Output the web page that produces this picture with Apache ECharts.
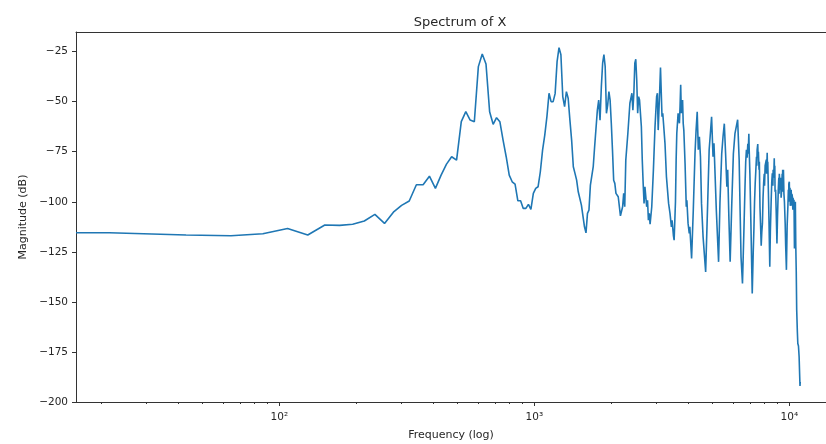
<!DOCTYPE html>
<html>
<head>
<meta charset="utf-8">
<script src="https://cdn.jsdelivr.net/npm/echarts@6/dist/echarts.min.js"></script>
<style>
html,body{margin:0;padding:0;background:#fff;}
#chart{width:826px;height:444px;}
</style>
</head>
<body>
<div id="chart"></div>
<script>
// ---- data ----
var sampleRate = 22050;
var fftSize = 1024;
var dcMagnitude = -115.5;
var bins = [1,2,3,4,5,6,7,8,9,10,11,12,13,14,15,16,17,18,19,20,21,22,23,24,25,26,27,28,29,30,
  31,32,33,34,35,36,37,38,39,40,41,42,43,44,45,46,47,48,49,50,51,52,53,54,55,56,57,58,59,60,
  61,62,63,64,65,66,67,68,69,70,71,72,73,74,75,76,77,78,79,80,81,82,83,84,85,86,87,88,89,90,
  91,92,93,94,95,96,97,99,101,103,104,105,106,108,109,110,112,113,114,115,116,117,118,119,120,
  122,123,124,125,126,128,129,130,131,132,134,136,138,140,141,142,144,145,147,148,149,151,153,
  156,158,160,161,163,164,166,167,168,170,172,173,174,175,177,178,179,181,183,184,186,188,189,
  190,192,195,198,200,202,204,206,208,210,213,218,222,225,227,230,233,235,237,240,245,248,252,
  255,258,261,264,266,269,272,276,280,284,289,291,295,297,300,304,
  308,311,313,315,317,319,320,322,323,325,328,332,335,337,339,341,343,345,346,347,349,350,351,
  353,354,356,358,360,362,364,366,368,370,371,373,375,377,378,380,381,382,384,386,389,391,394,
  396,398,400,401,403,405,406,407,408,410,412,415,417,420,422,423,424,426,428,429,431,433,435,
  436,437,438,440,442,444,447,449,452,455,458,460,461,462,464,465,467,468,470,472,473,475,477,
  479,480,482,483,484,486,488,490,492,494,496,499,501,504,507,509,511,512];
var magnitudes = [-115.5,-116.6,-117.0,-116.0,-113.3,-116.6,-111.6,-111.8,-111.2,-109.6,
  -106.3,-110.8,-105.2,-101.8,-99.6,-91.5,-91.5,-87.2,-93.3,-86.7,
  -81.2,-77.5,-79.2,-60.0,-55.0,-59.2,-60.0,-32.5,-26.2,-31.2,
  -55.0,-61.3,-58.0,-60.0,-69.2,-77.5,-86.7,-90.0,-91.2,-99.5,
  -99.5,-103.3,-103.3,-101.3,-103.8,-95.8,-93.3,-92.5,-85.0,-74.2,
  -66.7,-57.5,-45.8,-50.0,-50.0,-46.0,-30.0,-23.0,-26.6,-47.5,
  -52.5,-45.0,-48.3,-59.2,-69.2,-82.5,-85.8,-89.2,-95.0,-95.8,
  -101.7,-102.5,-112.5,-115.5,-105.8,-104.2,-91.7,-91.7,-82.5,-72.5,
  -72.5,-54.2,-49.2,-59.2,-42.5,-30.8,-26.5,-32.5,-55.8,-51.7,
  -45.0,-49.2,-60.8,-74.2,-89.2,-90.8,-95.8,-97.5,-107.0,-102.5,
  -95.8,-102.5,-79.2,-65.8,-66.7,-50.8,-45.8,-54.2,-45.8,-30.8,
  -28.8,-39.2,-55.8,-47.5,-49.2,-62.5,-79.2,-90.8,-100.8,-92.5,
  -102.5,-99.2,-109.2,-105.8,-111.2,-102.5,-84.2,-62.5,-47.5,-45.8,
  -64.2,-44.2,-33.0,-57.5,-55.8,-60.8,-70.8,-87.5,-100.8,-105.8,
  -112.5,-109.2,-117.0,-119.2,-100.0,-79.2,-65.8,-55.8,-60.8,-52.5,
  -41.5,-55.8,-49.2,-60.8,-64.2,-80.8,-102.5,-99.2,-110.8,-115.8,
  -112.5,-118.0,-128.3,-104.0,-76.0,-64.0,-55.0,-74.0,-67.5,-77.5,
  -100.8,-117.5,-135.0,-100.8,-74.0,-67.5,-57.5,-77.5,-70.8,-84.0,
  -104.0,-130.0,-100.8,-76.0,-67.5,-61.0,-76.0,-92.5,-84.0,-109.0,
  -130.0,-100.8,-76.0,-66.0,-61.0,-59.0,-79.0,-99.0,-127.5,-140.8,
  -114.0,-92.5,-80.0,-74.0,-78.0,-71.0,-76.0,-66.0,-74.0,-85.8,
  -110.8,-145.8,-125.0,-114.0,-100.0,-90.8,-84.0,-77.5,-82.0,-74.0,
  -71.2,-78.0,-75.0,-84.0,-80.0,-102.5,-112.0,-122.0,-115.0,-110.8,
  -98.0,-90.8,-86.0,-92.0,-82.0,-82.5,-79.0,-86.0,-75.5,-84.0,
  -80.0,-94.0,-108.0,-132.5,-115.0,-99.0,-90.0,-85.8,-92.0,-84.0,
  -88.0,-78.3,-86.0,-82.0,-95.0,-94.0,-104.0,-120.8,-108.0,-94.0,
  -88.0,-96.0,-86.0,-85.8,-94.0,-88.0,-98.0,-94.0,-86.0,-95.0,
  -84.0,-92.0,-84.0,-96.0,-100.0,-110.8,-122.0,-134.0,-112.0,-102.5,
  -94.0,-100.0,-91.0,-90.0,-98.0,-93.0,-102.0,-100.8,-94.0,-102.0,
  -96.0,-97.5,-104.0,-98.0,-101.0,-104.0,-99.0,-123.3,-104.0,-100.0,
  -122.5,-135.0,-154.0,-165.0,-170.8,-172.0,-177.5,-185.0,-192.0,-190.0];
var majorTicks = [100, 1000, 10000];
var minorTicks = [20,30,40,50,60,70,80,90,200,300,400,500,600,700,800,900,2000,3000,4000,5000,6000,7000,8000,9000];
var yTicks = [-200,-175,-150,-125,-100,-75,-50,-25];
var xMin = 15.94, xMax = 13915;
var yMin = -200, yMax = -15.2;

// ---- build series (DC bin is clipped to the left edge as in a log plot) ----
var binWidth = sampleRate / fftSize;
var seriesData = [[xMin, dcMagnitude]];
for (var i = 0; i < bins.length; i++) {
  seriesData.push([bins[i] * binWidth, magnitudes[i]]);
}

var sup = {2: '\u00b2', 3: '\u00b3', 4: '\u2074'};
var font = 'DejaVu Sans';
var axisColor = '#333';
var textColor = '#262626';

var chart = echarts.init(document.getElementById('chart'), null, {renderer: 'canvas'});
chart.setOption({
  animation: false,
  backgroundColor: '#fff',
  title: {
    text: 'Spectrum of X',
    left: 455, top: 11, textAlign: 'center',
    textStyle: {fontFamily: font, fontSize: 13, fontWeight: 'normal', color: textColor}
  },
  grid: {left: 76, right: 0, top: 32, bottom: 42, show: false, containLabel: false, outerBoundsMode: 'none'},
  xAxis: [{
    type: 'log', logBase: 10, min: xMin, max: xMax,
    name: 'Frequency (log)', nameLocation: 'middle', nameGap: 28,
    nameTextStyle: {fontFamily: font, fontSize: 11, color: textColor},
    axisLine: {show: true, lineStyle: {color: axisColor, width: 1}},
    axisTick: {show: true, inside: false, length: 4, lineStyle: {color: axisColor}, customValues: majorTicks},
    axisLabel: {show: true, customValues: majorTicks, margin: 10, fontFamily: font, fontSize: 10.5, color: textColor,
      formatter: function (v) { var e = Math.round(Math.log10(v)); return '10' + (sup[e] || e); }},
    splitLine: {show: false}, minorTick: {show: false}
  }, {
    type: 'log', logBase: 10, min: xMin, max: xMax, position: 'bottom',
    axisLine: {show: false},
    axisTick: {show: true, inside: false, length: 2, lineStyle: {color: axisColor}, customValues: minorTicks},
    axisLabel: {show: false},
    splitLine: {show: false}
  }, {
    type: 'log', logBase: 10, min: xMin, max: xMax, position: 'top',
    axisLine: {show: true, lineStyle: {color: axisColor, width: 1}},
    axisTick: {show: false}, axisLabel: {show: false}, splitLine: {show: false}
  }],
  yAxis: {
    type: 'value', min: yMin, max: yMax,
    name: 'Magnitude (dB)', nameLocation: 'middle', nameGap: 46,
    nameTextStyle: {fontFamily: font, fontSize: 11, color: textColor},
    axisLine: {show: true, lineStyle: {color: axisColor, width: 1}},
    axisTick: {show: true, inside: false, length: 4, lineStyle: {color: axisColor}, customValues: yTicks},
    axisLabel: {show: true, customValues: yTicks, margin: 8, fontFamily: font, fontSize: 10.5, color: textColor,
      formatter: function (v) { return String(v).replace('-', '\u2212'); }},
    splitLine: {show: false}
  },
  series: [{
    type: 'line', xAxisIndex: 0, data: seriesData,
    showSymbol: false, symbol: 'none', clip: true,
    lineStyle: {color: '#1f77b4', width: 1.6}
  }]
});
</script>
</body>
</html>
